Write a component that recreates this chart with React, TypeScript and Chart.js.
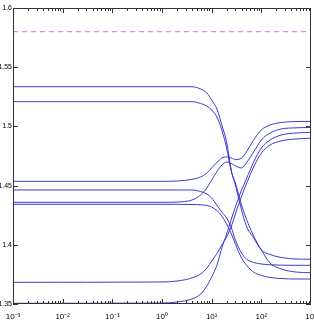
import React, { useEffect, useRef } from 'react';
import { Chart, registerables } from 'chart.js';

Chart.register(...registerables);

// shared abscissa (log axis)
const xValues = [0.001, 1, 2, 4, 6, 8, 10, 13, 16, 20, 25, 30, 40, 50, 70, 100, 150, 250, 500, 1000];

// curves descending from the upper/left plateaus
const modeA = [1.5335, 1.5335, 1.5335, 1.5335, 1.5316, 1.5282, 1.5223, 1.5139, 1.5012, 1.4868, 1.4623, 1.4505, 1.4294, 1.4159, 1.4057, 1.3956, 1.3918, 1.3893, 1.388, 1.3878];
const modeB = [1.5209, 1.5209, 1.5209, 1.5209, 1.5193, 1.5172, 1.5139, 1.5071, 1.497, 1.4818, 1.4615, 1.4522, 1.4336, 1.4218, 1.4074, 1.3956, 1.3846, 1.3796, 1.377, 1.3764];
const modeC = [1.4463, 1.4463, 1.4463, 1.4463, 1.445, 1.4429, 1.4395, 1.4328, 1.4277, 1.4226, 1.4142, 1.4041, 1.3931, 1.388, 1.3851, 1.3838, 1.3831, 1.3828, 1.3827, 1.3827];
const modeD = [1.4342, 1.4342, 1.4342, 1.434, 1.4338, 1.4332, 1.4319, 1.4285, 1.4243, 1.4176, 1.4091, 1.4007, 1.3889, 1.3829, 1.377, 1.3741, 1.3724, 1.3715, 1.3711, 1.3711];
// curves rising to the upper/right plateaus
const modeE = [1.4536, 1.4536, 1.4539, 1.4552, 1.4573, 1.4606, 1.4649, 1.4699, 1.4733, 1.4742, 1.4733, 1.472, 1.4733, 1.4784, 1.4885, 1.497, 1.5012, 1.5033, 1.5041, 1.5043];
const modeF = [1.4359, 1.4359, 1.4361, 1.4378, 1.4421, 1.448, 1.4547, 1.4623, 1.4674, 1.4699, 1.4687, 1.4666, 1.4649, 1.4691, 1.4784, 1.4885, 1.4944, 1.4978, 1.4988, 1.4992];
const modeG = [1.3683, 1.3686, 1.3694, 1.372, 1.3753, 1.3804, 1.3863, 1.3931, 1.3998, 1.4066, 1.4159, 1.426, 1.4412, 1.4514, 1.4657, 1.4775, 1.4843, 1.4877, 1.4894, 1.49];
const modeH = [1.3506, 1.3508, 1.3517, 1.3542, 1.3584, 1.3652, 1.3728, 1.3838, 1.3973, 1.4091, 1.4218, 1.4319, 1.4463, 1.4556, 1.4699, 1.4818, 1.4885, 1.4927, 1.4944, 1.495];

// dashed reference level
const refX = [0.001, 1000];
const refY = [1.58, 1.58];

const yTickValues = [1.35, 1.4, 1.45, 1.5, 1.55, 1.6];
const yTickLabels = ['1.35', '1.4', '1.45', '1.5', '1.55', '1.6'];
const xTickValues = [0.001, 0.01, 0.1, 1, 10, 100, 1000];
const xTickLabels = ['10⁻³', '10⁻²', '10⁻¹', '10⁰', '10¹', '10²', '10³'];

const curves = [modeA, modeB, modeC, modeD, modeE, modeF, modeG, modeH];

const framePlugin = {
  id: 'frame',
  afterDatasetsDraw(chart: any) {
    const { ctx, chartArea: a, scales } = chart;
    const xs = scales.x;
    const ys = scales.y;
    ctx.save();
    ctx.strokeStyle = '#333';
    ctx.lineWidth = 1;
    ctx.beginPath();
    ctx.rect(a.left + 0.5, a.top + 0.5, a.right - a.left - 1, a.bottom - a.top - 1);
    ctx.stroke();
    ctx.beginPath();
    for (let e = -3; e <= 2; e++) {
      for (let m = 1; m <= 9; m++) {
        const v = m * Math.pow(10, e);
        const px = Math.round(xs.getPixelForValue(v)) + 0.5;
        const len = m === 1 ? 5 : 3;
        ctx.moveTo(px, a.bottom);
        ctx.lineTo(px, a.bottom - len);
        ctx.moveTo(px, a.top);
        ctx.lineTo(px, a.top + len);
      }
    }
    for (const v of yTickValues) {
      const py = Math.round(ys.getPixelForValue(v)) + 0.5;
      ctx.moveTo(a.left, py);
      ctx.lineTo(a.left + 5, py);
      ctx.moveTo(a.right, py);
      ctx.lineTo(a.right - 5, py);
    }
    ctx.stroke();
    ctx.restore();
  },
};

export default function App() {
  const ref = useRef<HTMLCanvasElement | null>(null);

  useEffect(() => {
    if (!ref.current) return;
    const datasets: any[] = curves.map((c) => ({
      data: xValues.map((x, i) => ({ x, y: c[i] })),
      borderColor: 'rgba(50,50,205,0.95)',
      borderWidth: 1,
      pointRadius: 0,
      fill: false,
      cubicInterpolationMode: 'monotone',
    }));
    datasets.push({
      data: refX.map((x, i) => ({ x, y: refY[i] })),
      borderColor: '#e070e0',
      borderWidth: 1,
      borderDash: [5, 4],
      pointRadius: 0,
      fill: false,
    });
    const chart = new Chart(ref.current, {
      type: 'line',
      data: { datasets },
      plugins: [framePlugin],
      options: {
        animation: false,
        responsive: false,
        devicePixelRatio: 1,
        layout: { padding: { top: 8, right: 3, left: 0, bottom: 0 } },
        plugins: { legend: { display: false }, tooltip: { enabled: false } },
        scales: {
          x: {
            type: 'logarithmic',
            min: 0.001,
            max: 1000,
            grid: { display: false, drawTicks: false },
            border: { display: false },
            afterBuildTicks: (s: any) => {
              s.ticks = xTickValues.map((v) => ({ value: v }));
            },
            afterFit: (s: any) => {
              s.height = 22;
              s.paddingLeft = 0;
              s.paddingRight = 0;
            },
            ticks: {
              autoSkip: false,
              maxRotation: 0,
              padding: 8,
              color: '#000',
              font: { family: 'Liberation Sans, Arial, sans-serif', size: 8 },
              callback: (v: any) => {
                const i = xTickValues.findIndex((t) => Math.abs(Math.log10(t) - Math.log10(Number(v))) < 1e-6);
                return i >= 0 ? xTickLabels[i] : '';
              },
            },
          },
          y: {
            type: 'linear',
            min: 1.35,
            max: 1.6,
            grid: { display: false, drawTicks: false },
            border: { display: false },
            afterBuildTicks: (s: any) => {
              s.ticks = yTickValues.map((v) => ({ value: v }));
            },
            afterFit: (s: any) => {
              s.width = 13;
              s.paddingTop = 0;
              s.paddingBottom = 0;
            },
            ticks: {
              padding: 1,
              color: '#000',
              font: { family: 'Liberation Sans, Arial, sans-serif', size: 7 },
              callback: (v: any) => {
                const i = yTickValues.findIndex((t) => Math.abs(t - Number(v)) < 1e-9);
                return i >= 0 ? yTickLabels[i] : '';
              },
            },
          },
        },
      },
    });
    return () => chart.destroy();
  }, []);

  return (
    <div style={{ position: 'absolute', left: 0, top: 0, width: 314, height: 326, background: '#fff' }}>
      <canvas ref={ref} width={314} height={326} style={{ display: 'block' }} />
    </div>
  );
}
